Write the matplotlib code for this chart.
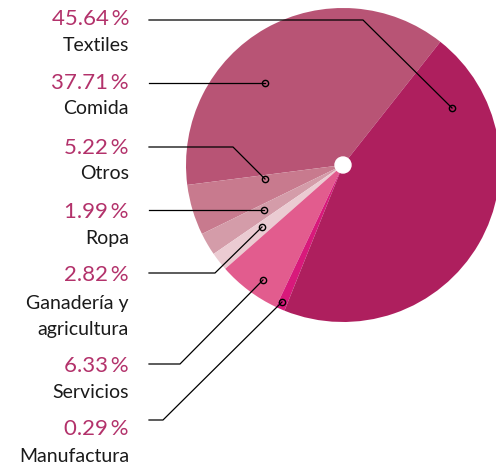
import matplotlib
matplotlib.use("Agg")
import matplotlib.pyplot as plt

W, H = 496, 471

# categories and the percentages printed next to them
names = ["Textiles", "Comida", "Otros", "Ropa", "Ganadería y\nagricultura", "Servicios", "Manufactura"]
pct = [45.64, 37.71, 5.22, 1.99, 2.82, 6.33, 0.29]

# wedge sizes as drawn in the picture (degrees), counterclockwise from Comida
wedge_names = ["Comida", "Otros", "Ropa", "Ganadería y\nagricultura", "Servicios", "Manufactura", "Textiles"]
wedge_deg = [135.6, 18.75, 8.45, 6.9, 23.3, 3.4, 163.6]
wedge_colors = ["#b85475", "#c87a8e", "#d49ca9", "#ebcbd2", "#e25c8e", "#d8197b", "#ae1f5e"]

# leader lines (pixel coords, y down): label row y, bend x, marker point
leader_y = [20, 83, 147, 210, 273, 364, 420]
bend_x = [363, 265, 233, 264, 215, 180, 163]
marker_xy = [(452, 108), (265, 83), (265, 179), (264, 210), (262, 227), (263, 280), (282, 302)]

# text rows (pixel y, centre of the percent line / first name line)
pct_y = [17, 81, 146, 210, 273, 364, 427]
name_y = [44, 107, 172, 237, 302, 391, 455]

fig = plt.figure(figsize=(W / 100, H / 100), dpi=100)
ax = fig.add_axes([0, 0, 1, 1])

def fy(y):
    return H - y

cx, cy, r = 343, 165, 157
ax.pie(wedge_deg, colors=wedge_colors, startangle=51.7, counterclock=True,
       center=(cx, fy(cy)), radius=r, wedgeprops=dict(linewidth=0))
ax.add_patch(plt.Circle((cx, fy(cy)), 8, color="white", zorder=3))

font = ["Lato", "DejaVu Sans"]
for i in range(len(names)):
    y = leader_y[i]
    mx, my = marker_xy[i]
    ax.plot([149, bend_x[i], mx], [fy(y), fy(y), fy(my)], color="black", lw=0.9, zorder=4)
    ax.plot(mx, fy(my), marker="o", ms=4.5, mfc="none", mec="black", mew=1.0, zorder=5)

    ax.text(129, fy(pct_y[i]), f"{pct[i]:.2f}\u2009%", ha="right", va="center_baseline",
            fontsize=16, color="#b3326b", family=font)
    for k, line in enumerate(names[i].split("\n")):
        ax.text(129, fy(name_y[i] + 26 * k), line, ha="right", va="center_baseline",
                fontsize=14, color="#1a1a1a", family=font)

ax.set_xlim(0, W)
ax.set_ylim(0, H)
ax.set_aspect("equal")
ax.axis("off")

fig.savefig("out.png", dpi=100)
